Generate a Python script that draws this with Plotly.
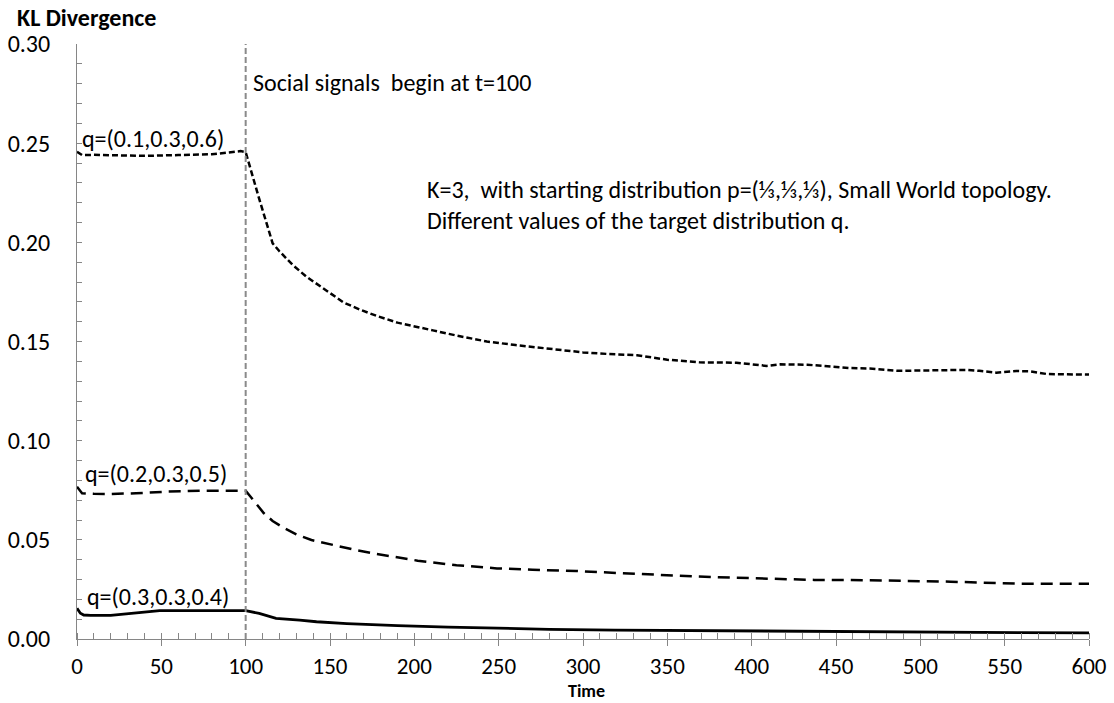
import plotly.graph_objects as go

# ---- data ----
t_q1 = [0, 3, 10, 25, 40, 60, 80, 97, 100, 108, 116, 120, 128, 136, 146, 158, 168, 178, 190, 200,
        211, 225, 243, 260, 279, 300, 315, 332, 350, 369, 391, 401, 409, 417, 433, 458, 470, 486,
        498, 515, 528, 535, 545, 557, 565, 575, 590, 600]
kl_q1 = [0.2457, 0.2440, 0.2441, 0.2438, 0.2436, 0.2440, 0.2444, 0.2460, 0.2455, 0.2220, 0.1995,
         0.1955, 0.1885, 0.1827, 0.1768, 0.1697, 0.1660, 0.1628, 0.1595, 0.1575, 0.1556, 0.1530,
         0.1500, 0.1482, 0.1466, 0.1445, 0.1437, 0.1431, 0.1408, 0.1395, 0.1393, 0.1382, 0.1377,
         0.1385, 0.1383, 0.1366, 0.1364, 0.1352, 0.1353, 0.1356, 0.1357, 0.1352, 0.1343, 0.1351,
         0.1350, 0.1336, 0.1334, 0.1333]

t_q2 = [0, 3, 10, 20, 35, 53, 75, 97, 100, 104.5, 110.8, 116, 122, 130, 139, 152, 165, 177, 190,
        202, 225, 249, 270, 296, 320, 343, 365, 390, 415, 437, 458, 475, 500, 518, 545, 557, 575, 600]
kl_q2 = [0.0768, 0.0735, 0.0732, 0.0731, 0.0735, 0.0743, 0.0748, 0.0751, 0.0748, 0.0701, 0.0634,
         0.0595, 0.0563, 0.0528, 0.0499, 0.0474, 0.0449, 0.0430, 0.0413, 0.0395, 0.0372, 0.0356,
         0.0349, 0.0343, 0.0333, 0.0323, 0.0316, 0.0309, 0.0302, 0.0298, 0.0298, 0.0296, 0.0293,
         0.0289, 0.0282, 0.0279, 0.0279, 0.0278]

t_q3 = [0, 2, 4, 8, 20, 35, 49, 70, 100, 108, 118, 132, 142, 160, 179, 190, 220, 249, 280, 319,
        350, 390, 430, 474, 520, 560, 600]
kl_q3 = [0.0155, 0.0130, 0.0121, 0.0119, 0.0119, 0.0132, 0.0143, 0.0143, 0.0143, 0.0129, 0.0104,
         0.0095, 0.0087, 0.0078, 0.0071, 0.0067, 0.0060, 0.0054, 0.0049, 0.0045, 0.0043, 0.0040,
         0.0037, 0.0034, 0.0033, 0.0032, 0.0031]

series_labels = ["q=(0.1,0.3,0.6)", "q=(0.2,0.3,0.5)", "q=(0.3,0.3,0.4)"]
label_pos_t = [3, 4.7, 5.9]
label_pos_kl = [0.2526, 0.0832, 0.0212]

signal_t = 100
signal_text = "Social signals\u00a0\u00a0begin at t=100"
signal_text_pos = (104.5, 0.2804)
info_text = ("K=3,\u00a0\u00a0with starting distribution p=(\u2153,\u2153,\u2153), Small World topology."
             "<br>Different values of the target distribution q.")
info_text_pos = (207.3, 0.2189)

x_range = [0, 600]
y_range = [0, 0.30]
y_title = "KL Divergence"
x_title = "Time"

# ---- figure ----
FONT = "Carlito, Lato, 'Noto Sans', sans-serif"
AXC = "#868686"
FS = 24

fig = go.Figure()
fig.add_trace(go.Scatter(x=t_q1, y=kl_q1, mode="lines",
                         line=dict(color="black", width=2.5, dash="6px,3px")))
fig.add_trace(go.Scatter(x=t_q2, y=kl_q2, mode="lines",
                         line=dict(color="black", width=2.5, dash="12px,7px")))
fig.add_trace(go.Scatter(x=t_q3, y=kl_q3, mode="lines",
                         line=dict(color="black", width=2.8)))

fig.add_vline(x=signal_t, line=dict(color="#8a8a8a", width=2, dash="6px,3px"))

for txt, tx, ky in zip(series_labels, label_pos_t, label_pos_kl):
    fig.add_annotation(x=tx, y=ky, text=txt, showarrow=False, xanchor="left", yanchor="middle",
                       font=dict(size=FS, color="black", family=FONT), xshift=-2)

fig.add_annotation(x=signal_text_pos[0], y=signal_text_pos[1], text=signal_text, showarrow=False,
                   xanchor="left", yanchor="middle", font=dict(size=FS, color="black", family=FONT),
                   xshift=-2)
fig.add_annotation(x=info_text_pos[0], y=info_text_pos[1], text=info_text, showarrow=False,
                   xanchor="left", yanchor="middle", align="left",
                   font=dict(size=FS, color="black", family=FONT), xshift=-2)

fig.add_annotation(xref="paper", yref="paper", x=-0.0593, y=1.0437, text="<b>" + y_title + "</b>",
                   showarrow=False, xanchor="left", yanchor="middle", xshift=-2,
                   font=dict(size=24, color="black", family=FONT))
fig.add_annotation(xref="paper", yref="paper", x=0.503, y=-0.0874, text="<b>" + x_title + "</b>",
                   showarrow=False, xanchor="center", yanchor="middle",
                   font=dict(size=18, color="black", family=FONT))

fig.update_layout(
    width=1114, height=703,
    margin=dict(l=77, r=25, t=44, b=64, autoexpand=False),
    paper_bgcolor="white", plot_bgcolor="white",
    showlegend=False,
    font=dict(family=FONT, color="black"),
    xaxis=dict(range=x_range, dtick=50, tick0=0, showgrid=False, zeroline=False, automargin=False,
               showline=True, linecolor=AXC, linewidth=1,
               ticks="outside", ticklen=6, tickcolor=AXC, tickwidth=1,
               minor=dict(dtick=10, ticks="inside", ticklen=6, tickcolor=AXC, tickwidth=1, showgrid=False),
               tickfont=dict(size=23, color="black", family=FONT)),
    yaxis=dict(range=y_range, dtick=0.05, tick0=0, tickformat=".2f", showgrid=False, zeroline=False,
               automargin=False,
               showline=True, linecolor=AXC, linewidth=1,
               ticks="inside", ticklen=5, tickcolor=AXC, tickwidth=1,
               minor=dict(dtick=0.01, ticks="inside", ticklen=5, tickcolor=AXC, tickwidth=1, showgrid=False),
               ticklabelstandoff=21,
               tickfont=dict(size=FS, color="black", family=FONT)),
)

fig.write_html("out.html")
